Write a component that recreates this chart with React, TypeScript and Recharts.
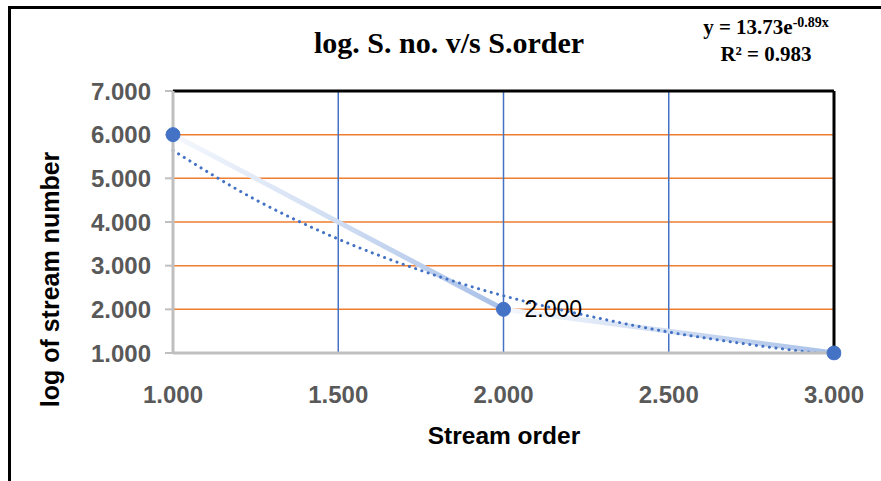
import React from "react";
import {
  ComposedChart,
  Line,
  XAxis,
  YAxis,
  CartesianGrid,
  ReferenceLine,
  LabelList,
} from "recharts";

// stream order vs log of stream number
const orders = [1, 2, 3];
const logNumbers = [6, 2, 1];

// exponential trendline y = 13.73e^-0.89x
const trendOrders = [1, 1.25, 1.5, 1.75, 2, 2.25, 2.5, 2.75, 3];
const trendValues = [5.64, 4.51, 3.61, 2.89, 2.31, 1.86, 1.48, 1.19, 0.95];

const xTicks = [1, 1.5, 2, 2.5, 3];
const yTicks = [1, 2, 3, 4, 5, 6, 7];
const blueGrid = [1.5, 2, 2.5];

const points = orders.map((o, i) => ({ order: o, value: logNumbers[i] }));
const trend = trendOrders.map((o, i) => ({ order: o, trend: trendValues[i] }));

const fmt = (v: number) => v.toFixed(3);

const PointLabel = (props: any) => {
  const { x, y, index, value } = props;
  if (index !== 1) return null;
  return (
    <text
      x={x + 21}
      y={y}
      dy="0.35em"
      fontSize={23}
      fontFamily="Liberation Sans, Arial, sans-serif"
      fill="#000"
    >
      {fmt(value)}
    </text>
  );
};

export default function App() {
  const sans = "Liberation Sans, Arial, sans-serif";
  const serif = "Liberation Serif, Times New Roman, serif";
  return (
    <div style={{ position: "absolute", left: 0, top: 0, width: 881, height: 481, background: "#fff", overflow: "hidden" }}>
      <div
        style={{
          position: "absolute",
          left: 8,
          top: 6,
          width: 873,
          height: 475,
          boxSizing: "border-box",
          borderTop: "3px solid #000",
          borderLeft: "3px solid #000",
        }}
      />
      <div
        style={{
          position: "absolute",
          left: 249,
          width: 400,
          top: 26,
          textAlign: "center",
          fontFamily: serif,
          fontWeight: "bold",
          fontSize: 30,
        }}
      >
        log. S. no. v/s S.order
      </div>
      <div
        style={{
          position: "absolute",
          left: 666,
          width: 200,
          top: 9,
          textAlign: "center",
          fontFamily: serif,
          fontWeight: "bold",
          fontSize: 21,
          lineHeight: "27px",
        }}
      >
        <div>
          y = 13.73e<sup style={{ fontSize: 14, verticalAlign: "7px" }}>-0.89x</sup>
        </div>
        <div>R² = 0.983</div>
      </div>
      <div
        style={{
          position: "absolute",
          left: 504 - 100,
          width: 200,
          top: 422,
          textAlign: "center",
          fontFamily: sans,
          fontWeight: "bold",
          fontSize: 24.5,
        }}
      >
        Stream order
      </div>
      <div
        style={{
          position: "absolute",
          left: 50 - 150,
          top: 280 - 15,
          width: 300,
          textAlign: "center",
          fontFamily: sans,
          fontWeight: "bold",
          fontSize: 25,
          transform: "rotate(-90deg)",
        }}
      >
        log of stream number
      </div>
      <div style={{ position: "absolute", left: 0, top: 0 }}>
        <ComposedChart
          width={881}
          height={481}
          margin={{ top: 91, right: 47, bottom: 68, left: 43 }}
        >
          <defs>
            <linearGradient id="segGrad" x1="0" y1="0" x2="1" y2="0">
              <stop offset="0" stopColor="#f5f8fd" />
              <stop offset="0.5" stopColor="#a9c1e8" />
              <stop offset="0.5" stopColor="#f5f8fd" />
              <stop offset="1" stopColor="#a9c1e8" />
            </linearGradient>
          </defs>
          <CartesianGrid vertical={false} stroke="#ed7d31" strokeWidth={1.5} />
          {blueGrid.map((g) => (
            <ReferenceLine key={g} x={g} stroke="#4472c4" strokeWidth={1.5} />
          ))}
          <ReferenceLine y={7} stroke="#000" strokeWidth={3} />
          <ReferenceLine x={3} stroke="#000" strokeWidth={3} />
          <XAxis
            dataKey="order"
            type="number"
            domain={[1, 3]}
            ticks={xTicks}
            tickFormatter={fmt}
            height={60}
            tickLine={false}
            axisLine={{ stroke: "#bfbfbf", strokeWidth: 3 }}
            tickMargin={27}
            tick={{ fill: "#595959", fontSize: 24, fontWeight: "bold", fontFamily: sans }}
            allowDuplicatedCategory={false}
          />
          <YAxis
            type="number"
            domain={[1, 7]}
            ticks={yTicks}
            allowDataOverflow
            tickFormatter={fmt}
            width={130}
            tickSize={8}
            tickMargin={14}
            tickLine={{ stroke: "#bfbfbf", strokeWidth: 2 }}
            axisLine={{ stroke: "#bfbfbf", strokeWidth: 3 }}
            tick={{ fill: "#595959", fontSize: 24, fontWeight: "bold", fontFamily: sans }}
          />
          <Line
            data={points}
            dataKey="value"
            type="linear"
            stroke="url(#segGrad)"
            strokeWidth={5}
            dot={{ r: 7, fill: "#4472c4", stroke: "#4472c4", strokeWidth: 1, clipDot: false }}
            isAnimationActive={false}
          >
            <LabelList dataKey="value" content={PointLabel} />
          </Line>
          <Line
            data={trend}
            dataKey="trend"
            type="monotone"
            stroke="#4472c4"
            strokeWidth={3}
            strokeDasharray="0.1 6.5"
            strokeLinecap="round"
            dot={false}
            activeDot={false}
            isAnimationActive={false}
          />
        </ComposedChart>
      </div>
    </div>
  );
}
